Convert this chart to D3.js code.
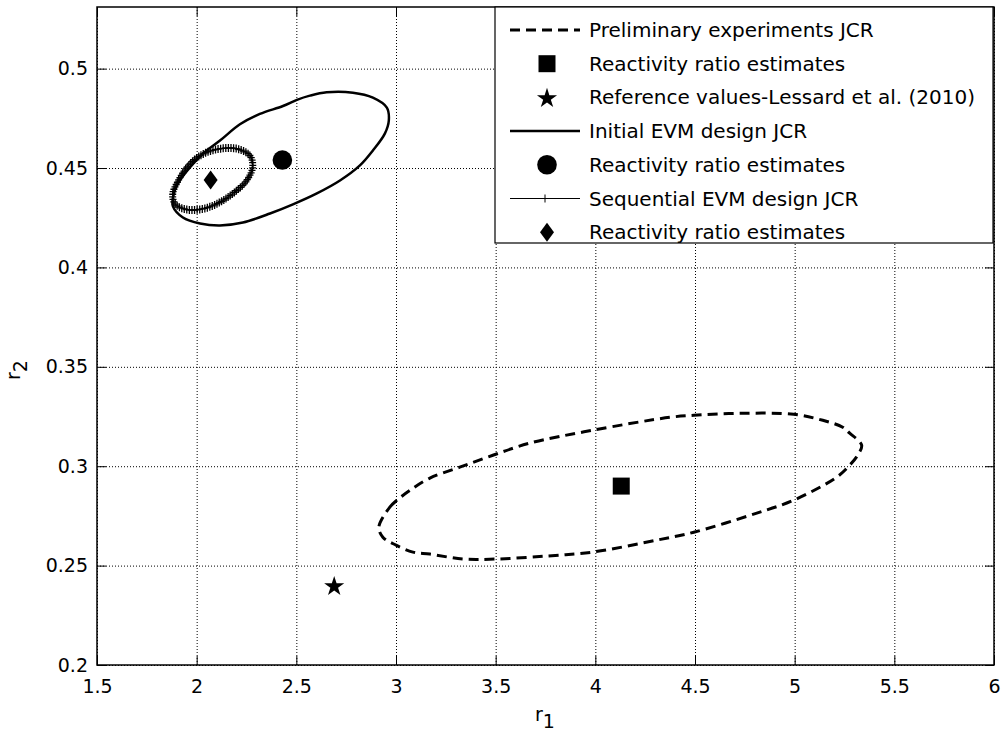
<!DOCTYPE html>
<html>
<head>
<meta charset="utf-8">
<script src="https://cdn.jsdelivr.net/npm/d3@7"></script>
<style>
  html, body { margin: 0; padding: 0; background: #fff; }
  svg { display: block; }
  text { font-family: "DejaVu Sans", "Liberation Sans", Arial, sans-serif; fill: #000; }
</style>
</head>
<body>
<svg id="chart" width="1005" height="738"></svg>
<script>
// ---------- data ----------
const xTicks = [1.5, 2, 2.5, 3, 3.5, 4, 4.5, 5, 5.5, 6];
const xTickLabels = ["1.5", "2", "2.5", "3", "3.5", "4", "4.5", "5", "5.5", "6"];
const yTicks = [0.2, 0.25, 0.3, 0.35, 0.4, 0.45, 0.5];
const yTickLabels = ["0.2", "0.25", "0.3", "0.35", "0.4", "0.45", "0.5"];

// Preliminary experiments JCR (dashed contour)
const prelimR1 = [2.914, 2.969, 3.005, 3.070, 3.170, 3.320, 3.486, 3.671, 3.987, 4.374, 4.494, 4.725, 4.995, 5.141, 5.241, 5.276, 5.336,
                  5.316, 5.276, 5.211, 4.995, 4.810, 4.494, 4.308, 3.987, 3.757, 3.501, 3.336, 3.170, 3.085, 3.000, 2.934];
const prelimR2 = [0.2693, 0.2794, 0.2829, 0.2879, 0.2940, 0.2995, 0.3055, 0.3116, 0.3181, 0.3246, 0.3256, 0.3266, 0.3261, 0.3231, 0.3196, 0.3166, 0.3106,
                  0.3055, 0.3005, 0.2945, 0.2829, 0.2764, 0.2668, 0.2628, 0.2568, 0.2548, 0.2533, 0.2533, 0.2558, 0.2568, 0.2603, 0.2643];
// Initial EVM design JCR (solid contour)
const initR1 = [2.652, 2.784, 2.884, 2.954, 2.964, 2.944, 2.884, 2.819, 2.719, 2.603, 2.483, 2.368, 2.232, 2.117, 2.017, 1.931, 1.881, 1.881, 1.906, 1.966, 2.032, 2.117, 2.217, 2.317, 2.433, 2.503, 2.568];
const initR2 = [0.4881, 0.4879, 0.4854, 0.4804, 0.4739, 0.4673, 0.4588, 0.4513, 0.4437, 0.4372, 0.4317, 0.4271, 0.4226, 0.4211, 0.4221, 0.4251, 0.4307, 0.4352, 0.4422, 0.4503, 0.4573, 0.4638, 0.4720, 0.4772, 0.4812, 0.4843, 0.4864];
// Sequential EVM design JCR (thin line with + markers)
const seqR1 = [2.201, 2.267, 2.281, 2.251, 2.201, 2.117, 2.033, 1.950, 1.891, 1.880, 1.908, 1.966, 2.033, 2.117];
const seqR2 = [0.4597, 0.4563, 0.4504, 0.4437, 0.4387, 0.4328, 0.4295, 0.4291, 0.4320, 0.4370, 0.4437, 0.4521, 0.4571, 0.4597];

// point estimates
const prelimEst = [4.13, 0.290];
const lessardRef = [2.69, 0.240];
const initEst = [2.43, 0.454];
const seqEst = [2.07, 0.444];

const legendLabels = [
  "Preliminary experiments JCR",
  "Reactivity ratio estimates",
  "Reference values-Lessard et al. (2010)",
  "Initial EVM design JCR",
  "Reactivity ratio estimates",
  "Sequential EVM design JCR",
  "Reactivity ratio estimates"
];
const legendKinds = ["dash", "square", "star", "solid", "circle", "plusline", "diamond"];

// ---------- layout ----------
const L = 97, R = 994, T = 7, B = 665;
const W = R - L, H = B - T;
const svg = d3.select("#chart");
const x = d3.scaleLinear().domain([1.5, 6]).range([L, R]);
const y = d3.scaleLinear().domain([0.2, 0.531]).range([B, T]);

const zip = (a, b) => a.map((v, i) => [v, b[i]]);
const lineGen = d3.line().x(d => x(d[0])).y(d => y(d[1])).curve(d3.curveCatmullRomClosed.alpha(0.5));

// grid
const grid = svg.append("g").attr("class", "grid");
grid.append("g").attr("transform", `translate(0,${B})`)
  .call(d3.axisBottom(x).tickValues(xTicks).tickSize(-H).tickFormat(""));
grid.append("g").attr("transform", `translate(${L},0)`)
  .call(d3.axisLeft(y).tickValues(yTicks).tickSize(-W).tickFormat(""));
grid.selectAll(".domain").remove();
grid.selectAll("line").attr("stroke", "#000").attr("stroke-width", 1).attr("stroke-dasharray", "1,2");

// axes with inward ticks
const fmtX = (d, i) => xTickLabels[i];
const fmtY = (d, i) => yTickLabels[i];
const axB = svg.append("g").attr("transform", `translate(0,${B})`)
  .call(d3.axisBottom(x).tickValues(xTicks).tickSize(-9).tickPadding(15).tickFormat(fmtX));
const axT = svg.append("g").attr("transform", `translate(0,${T})`)
  .call(d3.axisTop(x).tickValues(xTicks).tickSize(-9).tickFormat(""));
const axL = svg.append("g").attr("transform", `translate(${L},0)`)
  .call(d3.axisLeft(y).tickValues(yTicks).tickSize(-9).tickPadding(9).tickFormat(fmtY));
const axR = svg.append("g").attr("transform", `translate(${R},0)`)
  .call(d3.axisRight(y).tickValues(yTicks).tickSize(-9).tickFormat(""));
[axB, axT, axL, axR].forEach(a => {
  a.select(".domain").remove();
  a.selectAll("line").attr("stroke", "#000").attr("stroke-width", 1);
  a.selectAll("text").attr("font-family", "DejaVu Sans, Liberation Sans, Arial, sans-serif").attr("font-size", 19).attr("fill", "#000");
});

// data curves
const plot = svg.append("g");
plot.append("path").datum(zip(prelimR1, prelimR2)).attr("d", lineGen)
  .attr("fill", "none").attr("stroke", "#000").attr("stroke-width", 3).attr("stroke-dasharray", "10,6");
plot.append("path").datum(zip(initR1, initR2)).attr("d", lineGen)
  .attr("fill", "none").attr("stroke", "#000").attr("stroke-width", 2.5);
const seqPath = plot.append("path").datum(zip(seqR1, seqR2)).attr("d", lineGen)
  .attr("fill", "none").attr("stroke", "#000").attr("stroke-width", 1);
// + markers along sequential contour
const node = seqPath.node();
const total = node.getTotalLength();
const nMark = Math.round(total / 2.6);
const plusG = plot.append("g");
for (let i = 0; i < nMark; i++) {
  const p = node.getPointAtLength(i * total / nMark);
  plusG.append("path").attr("d", `M${p.x - 3.5},${p.y}H${p.x + 3.5}M${p.x},${p.y - 4}V${p.y + 4}`)
    .attr("stroke", "#000").attr("stroke-width", 1.3).attr("fill", "none");
}

// marker drawers
function drawMarker(g, kind, cx, cy) {
  if (kind === "square") {
    g.append("path").attr("d", d3.symbol(d3.symbolSquare, 289)()).attr("transform", `translate(${cx},${cy})`).attr("fill", "#000");
  } else if (kind === "star") {
    g.append("path").attr("d", d3.symbol(d3.symbolStar, 125)()).attr("transform", `translate(${cx},${cy + 1})`).attr("fill", "#000");
  } else if (kind === "circle") {
    g.append("circle").attr("cx", cx).attr("cy", cy).attr("r", 9.8).attr("fill", "#000");
  } else if (kind === "diamond") {
    g.append("path").attr("d", `M${cx},${cy - 9.5}L${cx + 7},${cy}L${cx},${cy + 9.5}L${cx - 7},${cy}Z`).attr("fill", "#000");
  }
}
drawMarker(plot, "square", x(prelimEst[0]), y(prelimEst[1]));
drawMarker(plot, "star", x(lessardRef[0]), y(lessardRef[1]));
drawMarker(plot, "circle", x(initEst[0]), y(initEst[1]));
drawMarker(plot, "diamond", x(seqEst[0]), y(seqEst[1]));

// box
svg.append("rect").attr("x", L).attr("y", T).attr("width", W).attr("height", H)
  .attr("fill", "none").attr("stroke", "#000").attr("stroke-width", 1.5);

// axis labels
const xl = svg.append("text").attr("x", 545).attr("y", 721).attr("text-anchor", "middle").attr("font-size", 19);
xl.append("tspan").text("r");
xl.append("tspan").attr("dy", 7).text("1");
const yl = svg.append("text").attr("transform", "translate(20,370) rotate(-90)").attr("text-anchor", "middle").attr("font-size", 19);
yl.append("tspan").text("r");
yl.append("tspan").attr("dy", 7).text("2");

// legend
const lg = svg.append("g");
const lgX0 = 495, lgY0 = T, lgX1 = 993, lgY1 = 243;
lg.append("rect").attr("x", lgX0).attr("y", lgY0).attr("width", lgX1 - lgX0).attr("height", lgY1 - lgY0)
  .attr("fill", "#fff").attr("stroke", "#000").attr("stroke-width", 1.2);
legendLabels.forEach((lab, i) => {
  const cy = 30 + i * 33.7;
  const kind = legendKinds[i];
  if (kind === "dash") {
    lg.append("line").attr("x1", 510).attr("x2", 580).attr("y1", cy).attr("y2", cy)
      .attr("stroke", "#000").attr("stroke-width", 3).attr("stroke-dasharray", "10,6");
  } else if (kind === "solid") {
    lg.append("line").attr("x1", 510).attr("x2", 580).attr("y1", cy).attr("y2", cy)
      .attr("stroke", "#000").attr("stroke-width", 2.5);
  } else if (kind === "plusline") {
    lg.append("line").attr("x1", 510).attr("x2", 580).attr("y1", cy).attr("y2", cy)
      .attr("stroke", "#000").attr("stroke-width", 1);
    lg.append("path").attr("d", `M545,${cy - 4}V${cy + 4}M541,${cy}H549`).attr("stroke", "#000").attr("stroke-width", 1);
  } else {
    drawMarker(lg, kind, 547, cy);
  }
  lg.append("text").attr("x", 589).attr("y", cy + 7).attr("font-size", 20).text(lab);
});
</script>
</body>
</html>
